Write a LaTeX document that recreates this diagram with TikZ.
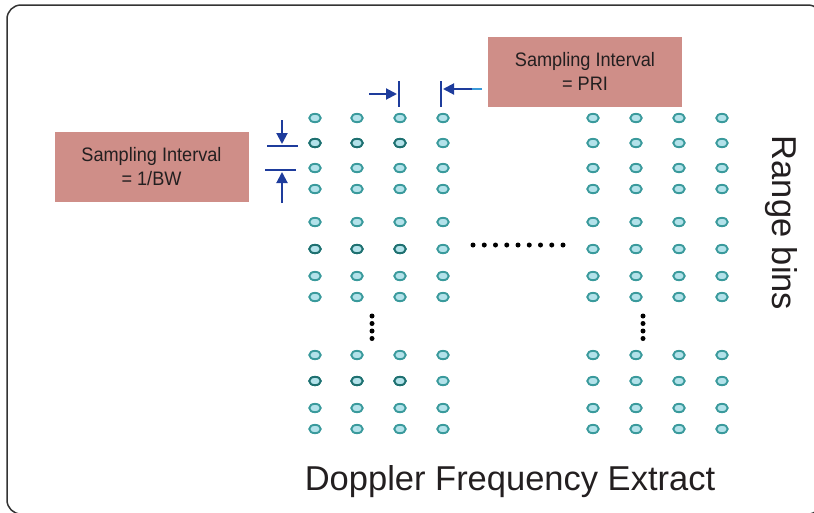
\documentclass[tikz,border=0pt]{standalone}
\usepackage{fontspec}
\setmainfont{Liberation Sans}
\newfontfamily\boxfont[FakeStretch=0.93]{Liberation Sans}
\usetikzlibrary{arrows.meta,shapes.geometric}
\definecolor{boxfill}{HTML}{CF8E88}
\definecolor{dotfill}{HTML}{B3E2EA}
\definecolor{dotline}{HTML}{3A9A9C}
\definecolor{dotdark}{HTML}{1F7070}
\definecolor{arrowblue}{HTML}{1E3C9C}
\definecolor{arrowlight}{HTML}{3A9AD9}
\definecolor{framegray}{HTML}{333333}
\definecolor{textgray}{HTML}{231F20}
\begin{document}
\begin{tikzpicture}[x=1pt,y=-1pt,
  dotnode/.style={ellipse,draw=dotline,fill=dotfill,line width=1.9pt,minimum width=11.5pt,minimum height=8.3pt,inner sep=0pt},
  darkdot/.style={dotnode,draw=dotdark},
  blackdot/.style={circle,fill=black,minimum size=5pt,inner sep=0pt},
  infobox/.style={rectangle,fill=boxfill,minimum width=194pt,minimum height=70pt,align=center,text=textgray,font=\boxfont\fontsize{19.5}{24}\selectfont},
  bigtext/.style={text=textgray,font=\fontsize{34.5}{40}\selectfont,inner sep=0pt},
  dimarrow/.style={arrowblue,line width=2pt,-{Triangle[length=11pt,width=11pt]}},
  dimbar/.style={arrowblue,line width=2pt}]
\useasboundingbox (0,0) rectangle (814,512);
\begin{scope}
\clip (0,0) rectangle (814,512);
\draw[framegray,line width=1.5pt,rounded corners=14pt] (7,5) rectangle (822,514);
\end{scope}
% dots
\foreach \r/\y in {1/118,2/143,3/168,4/189,5/222,6/249,7/276,8/297,9/355,10/381,11/408,12/429}{
  \foreach \c/\x in {1/315,2/357,3/400,4/443,5/593,6/636,7/679,8/722}{
    \node[dotnode] (d-\r-\c) at (\x,\y) {};
  }
}
\foreach \r in {2,6,10}{
  \foreach \c/\x in {1/315,2/357,3/400}{
    \node[darkdot] at (d-\r-\c) {};
  }
}
% continuation dots
\foreach \i in {0,...,8}{
  \node[blackdot] (h-\i) at ({473+\i*11.25},245) {};
}
\foreach \i/\y in {0/316,1/323.5,2/331,3/338.5}{
  \node[blackdot] (vl-\i) at (372,\y) {};
  \node[blackdot] (vr-\i) at (643,\y) {};
}
% info boxes
\node[infobox] (bw) at (151.5,167) {Sampling Interval\\= 1/BW};
\node[infobox] (pri) at (585,71.5) {Sampling Interval\\= PRI};
% horizontal dimension
\coordinate (b1t) at (399,81);
\coordinate (b1b) at (399,107);
\coordinate (b2t) at (441,81);
\coordinate (b2b) at (441,107);
\coordinate (a1s) at (369,94);
\coordinate (a1e) at (397,94);
\coordinate (a2s) at (482,89);
\coordinate (a2e) at (443,89);
\draw[dimbar] (b1t) -- (b1b);
\draw[dimbar] (b2t) -- (b2b);
\draw[dimarrow] (a1s) -- (a1e);
\draw[arrowlight,line width=2pt] (a2s) -- (470,89);
\draw[dimarrow] (472,89) -- (a2e);
% vertical dimension
\coordinate (l1a) at (267,146);
\coordinate (l1b) at (298,146);
\coordinate (l2a) at (265,170);
\coordinate (l2b) at (296,170);
\coordinate (v1s) at (282,120);
\coordinate (v1e) at (282,144);
\coordinate (v2s) at (282,203);
\coordinate (v2e) at (282,172);
\draw[dimbar] (l1a) -- (l1b);
\draw[dimbar] (l2a) -- (l2b);
\draw[dimarrow] (v1s) -- (v1e);
\draw[dimarrow] (v2s) -- (v2e);
% labels
\node[bigtext,rotate=-90] (range) at (781,223) {Range bins};
\node[bigtext] (doppler) at (510,482) {Doppler Frequency Extract};
\end{tikzpicture}
\end{document}
